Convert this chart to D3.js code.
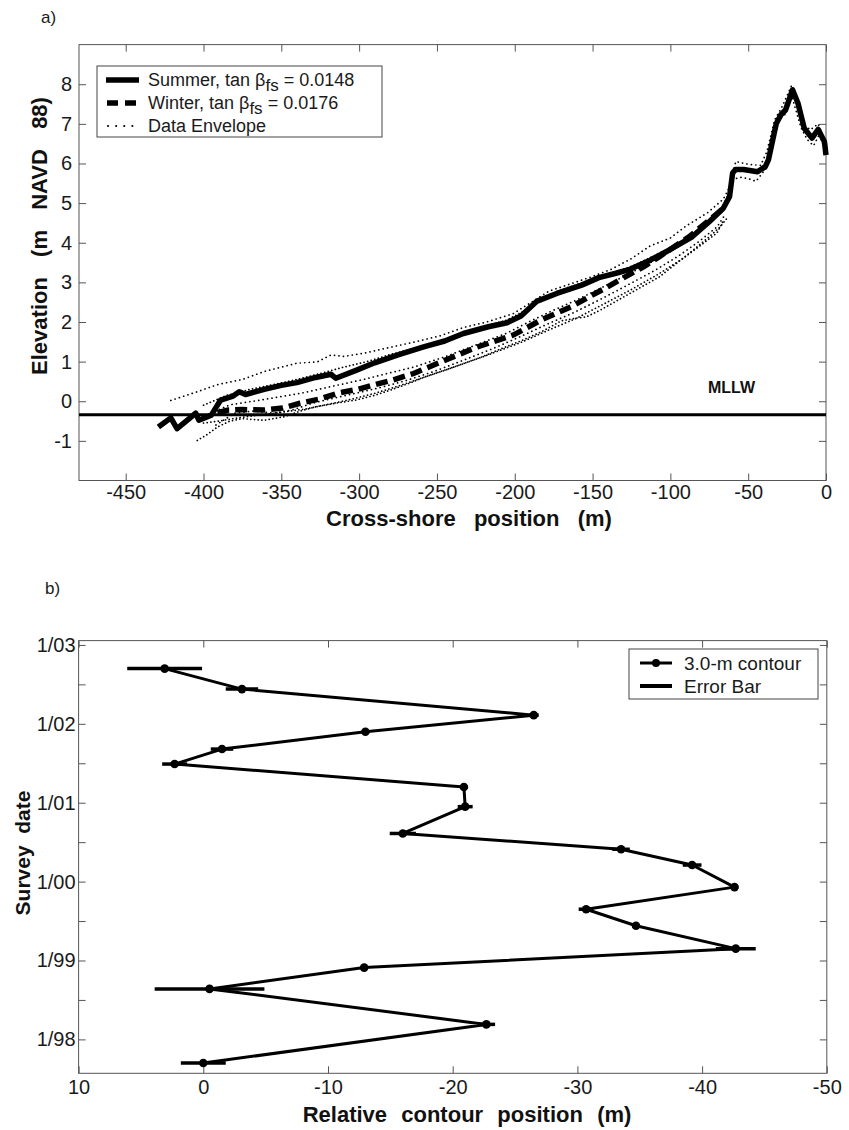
<!DOCTYPE html>
<html><head><meta charset="utf-8">
<script src="https://cdn.jsdelivr.net/npm/d3@7"></script>
<style>
body{margin:0;background:#fff;}
svg text{font-family:"Liberation Sans",Arial,Helvetica,sans-serif;}
</style></head><body>
<svg id="c" width="849" height="1130"></svg>
<script>
// ---------- Panel a) data ----------
const summerProfile = [[-429,-0.65],[-421,-0.42],[-417,-0.69],[-409,-0.43],[-405,-0.30],[-403,-0.48],[-395,-0.35],[-389,0.03],[-381,0.13],[-377,0.24],[-373,0.17],[-361,0.30],[-350,0.40],[-340,0.47],[-328,0.60],[-318,0.68],[-315,0.58],[-302,0.78],[-290,0.97],[-275,1.17],[-258,1.38],[-245,1.52],[-233,1.71],[-217,1.88],[-205,1.98],[-196,2.15],[-186,2.52],[-173,2.72],[-157,2.93],[-146,3.12],[-135,3.23],[-126,3.33],[-113,3.56],[-100,3.83],[-86,4.15],[-75,4.53],[-66,4.87],[-62,5.16],[-60,5.76],[-58,5.85],[-53,5.85],[-44,5.79],[-39,5.92],[-37,6.09],[-32,7.0],[-29,7.23],[-26,7.35],[-21.5,7.86],[-18,7.52],[-14,6.89],[-9,6.64],[-5,6.86],[-1,6.55],[0,6.21]];
const winterProfile = [[-391,-0.29],[-384,-0.22],[-375,-0.21],[-361,-0.22],[-349,-0.17],[-338,-0.05],[-326,0.05],[-313,0.21],[-301,0.30],[-288,0.44],[-278,0.54],[-265,0.70],[-242,1.08],[-224,1.37],[-201,1.67],[-183,2.05],[-164,2.38],[-152,2.64],[-142,2.85],[-129,3.14],[-117,3.40],[-107,3.65],[-88,4.15],[-75,4.57],[-66,4.87]];
const envelopeTop = [[-421,0.02],[-404,0.24],[-391,0.42],[-375,0.55],[-361,0.75],[-340,0.96],[-327,0.99],[-318,1.17],[-310,1.13],[-296,1.22],[-280,1.36],[-264,1.50],[-248,1.65],[-233,1.86],[-218,2.00],[-201,2.21],[-190,2.48],[-178,2.78],[-165,2.95],[-150,3.15],[-138,3.33],[-125,3.60],[-113,3.92],[-100,4.12],[-90,4.42],[-76,4.76],[-66,5.10],[-62,5.40],[-58,6.05],[-50,5.98],[-42,5.95],[-38,6.3],[-33,7.1],[-28,7.45],[-22,7.98],[-18,7.55],[-15,7.0],[-10,6.85],[-5,7.0],[-1,6.6],[0,6.3]];
const envelopeUpper = [[-400,-0.10],[-385,0.15],[-370,0.30],[-355,0.42],[-340,0.55],[-325,0.70],[-310,0.86],[-295,1.00],[-280,1.18],[-265,1.33],[-250,1.50],[-235,1.70],[-220,1.88],[-205,2.05],[-193,2.30],[-182,2.62],[-168,2.84],[-152,3.05],[-138,3.22],[-124,3.42],[-110,3.68],[-96,3.95],[-84,4.28],[-72,4.62],[-64,5.0]];
const envelopeMid = [[-395,-0.30],[-383,-0.09],[-365,0.02],[-350,0.12],[-335,0.22],[-318,0.37],[-297,0.55],[-282,0.70],[-265,0.86],[-245,1.12],[-225,1.42],[-205,1.72],[-190,2.02],[-175,2.30],[-160,2.56],[-145,2.85],[-130,3.15],[-115,3.45],[-100,3.78],[-88,4.10],[-78,4.42],[-70,4.70],[-64,5.0]];
const envelopeLowMid = [[-400,-0.55],[-390,-0.50],[-378,-0.42],[-365,-0.35],[-350,-0.28],[-335,-0.20],[-320,-0.08],[-305,0.05],[-290,0.20],[-275,0.38],[-255,0.65],[-235,0.92],[-215,1.20],[-195,1.50],[-178,1.80],[-160,2.10],[-143,2.45],[-125,2.82],[-108,3.20],[-92,3.60],[-80,3.95],[-70,4.25],[-66,4.55]];
const envelopeLower = [[-392,-0.60],[-380,-0.30],[-368,-0.25],[-355,-0.30],[-343,-0.22],[-330,-0.05],[-316,0.08],[-300,0.22],[-285,0.36],[-270,0.52],[-252,0.75],[-232,1.05],[-214,1.33],[-197,1.62],[-180,1.93],[-163,2.22],[-146,2.55],[-128,2.92],[-110,3.30],[-95,3.66],[-82,4.02],[-70,4.40],[-65,4.70]];
const envelopeLow = [[-404,-0.99],[-398,-0.85],[-391,-0.65],[-383,-0.50],[-375,-0.44],[-361,-0.48],[-348,-0.39],[-338,-0.25],[-328,-0.14],[-315,-0.05],[-302,0.03],[-290,0.15],[-280,0.28],[-268,0.45],[-258,0.61],[-245,0.78],[-233,0.95],[-221,1.12],[-211,1.29],[-195,1.54],[-182,1.77],[-170,2.03],[-160,2.10],[-154,2.13],[-145,2.30],[-126,2.72],[-107,3.14],[-88,3.73],[-75,4.15],[-68,4.40],[-64,4.60]];
const envelopeCrest = [[-66,4.95],[-62,5.3],[-60,5.6],[-55,5.65],[-50,5.62],[-45,5.55],[-42,5.7],[-38,5.9],[-34,6.6],[-30,7.1],[-26,7.25],[-22,7.7],[-19,7.3],[-16,6.9],[-12,6.6],[-8,6.45],[-4,6.75],[0,6.2]];
const envelopes = [envelopeTop, envelopeUpper, envelopeMid, envelopeLowMid, envelopeLower, envelopeLow, envelopeCrest];
const mllwLevel = -0.34;
const xTicksA = [-450,-400,-350,-300,-250,-200,-150,-100,-50,0];
const yTicksA = [-1,0,1,2,3,4,5,6,7,8];
const legendA = [
  {name:"Summer, tan β", sub:"fs", rest:" = 0.0148", kind:"solid"},
  {name:"Winter, tan β", sub:"fs", rest:" = 0.0176", kind:"dash"},
  {name:"Data Envelope", sub:"", rest:"", kind:"dot"}
];

// ---------- Panel b) data ----------
const surveyDates = [2002.70,2002.44,2002.11,2001.90,2001.68,2001.49,2001.20,2000.95,2000.61,2000.41,2000.21,1999.93,1999.65,1999.44,1999.15,1998.91,1998.64,1998.19,1997.70];
const contourPos = [3.1,-3.1,-26.5,-13.0,-1.5,2.3,-20.9,-21.0,-16.0,-33.5,-39.2,-42.6,-30.7,-34.7,-42.7,-12.9,-0.5,-22.7,0.0];
const errorBar = [3.0,1.3,0.4,0.3,0.9,1.0,0.3,0.6,1.05,0.7,0.75,0.3,0.6,0.3,1.6,0.3,4.4,0.7,1.8];
const yearTicks = [1998,1998.5,1999,1999.5,2000,2000.5,2001,2001.5,2002,2002.5,2003];
const yearLabels = {1998:"1/98",1999:"1/99",2000:"1/00",2001:"1/01",2002:"1/02",2003:"1/03"};
const xTicksB = [10,0,-10,-20,-30,-40,-50];

const svg = d3.select("#c");
svg.append("rect").attr("width",849).attr("height",1130).attr("fill","#fff");
const frameColor = "#555", tickColor="#555", labelColor="#1a1a1a";

function styleAxis(g, fs){
  g.select(".domain").remove();
  g.selectAll(".tick line").attr("stroke",tickColor).attr("stroke-width",1);
  g.selectAll(".tick text").attr("fill",labelColor).attr("font-size",fs)
   .attr("font-family","'Liberation Sans',Arial,sans-serif");
}

// ================= Panel a =================
const xA = d3.scaleLinear().domain([-480,0]).range([79,826]);
const yA = d3.scaleLinear().domain([-2,9]).range([480.5,44.6]);
const fmt = d => String(d);

const gA = svg.append("g");
gA.append("g").attr("transform",`translate(0,${yA(-2)})`)
  .call(d3.axisBottom(xA).tickValues(xTicksA).tickFormat(fmt).tickSize(-7).tickPadding(4))
  .call(g=>styleAxis(g,20));
gA.append("g").attr("transform",`translate(0,${yA(9)})`)
  .call(d3.axisTop(xA).tickValues(xTicksA).tickFormat("").tickSize(-7))
  .call(g=>styleAxis(g,20));
gA.append("g").attr("transform",`translate(${xA(-480)},0)`)
  .call(d3.axisLeft(yA).tickValues(yTicksA).tickFormat(fmt).tickSize(-7).tickPadding(7))
  .call(g=>styleAxis(g,20));
gA.append("g").attr("transform",`translate(${xA(0)},0)`)
  .call(d3.axisRight(yA).tickValues(yTicksA).tickFormat("").tickSize(-7))
  .call(g=>styleAxis(g,20));
gA.append("rect").attr("x",xA(-480)).attr("y",yA(9)).attr("width",xA(0)-xA(-480)).attr("height",yA(-2)-yA(9))
  .attr("fill","none").attr("stroke",frameColor).attr("stroke-width",1);

const lineA = d3.line().x(d=>xA(d[0])).y(d=>yA(d[1]));
gA.selectAll("path.env").data(envelopes).join("path").attr("class","env")
  .attr("d",lineA).attr("fill","none").attr("stroke","#000").attr("stroke-width",1.7)
  .attr("stroke-linecap","round").attr("stroke-dasharray",(d,i)=> i%2 ? "0.1 3.6" : "0.1 4.4");
gA.append("path").attr("d",lineA(winterProfile)).attr("fill","none").attr("stroke","#000")
  .attr("stroke-width",5.5).attr("stroke-dasharray","12 6");
gA.append("path").attr("d",lineA(summerProfile)).attr("fill","none").attr("stroke","#000")
  .attr("stroke-width",5.5).attr("stroke-linejoin","round");
gA.append("line").attr("x1",xA(-480)).attr("x2",xA(0)).attr("y1",yA(mllwLevel)).attr("y2",yA(mllwLevel))
  .attr("stroke","#000").attr("stroke-width",3);
gA.append("text").attr("x",708).attr("y",yA(mllwLevel)-22).attr("font-size",16).attr("font-weight","bold")
  .attr("fill","#111").text("MLLW");

// legend a
const legA = gA.append("g");
legA.append("rect").attr("x",97).attr("y",66).attr("width",285).attr("height",71)
  .attr("fill","#fff").attr("stroke","#444").attr("stroke-width",1);
legendA.forEach((d,i)=>{
  const cy = 80 + i*23;
  const ln = legA.append("line").attr("x1",106).attr("x2",139).attr("y1",cy).attr("y2",cy).attr("stroke","#000");
  if(d.kind==="solid") ln.attr("stroke-width",5.5);
  if(d.kind==="dash") ln.attr("stroke-width",5.5).attr("stroke-dasharray","11 7").attr("x1",107);
  if(d.kind==="dot") ln.attr("stroke-width",2).attr("stroke-linecap","round").attr("stroke-dasharray","0.1 8").attr("x1",108);
  const t = legA.append("text").attr("x",148).attr("y",cy+6).attr("font-size",18).attr("fill",labelColor);
  t.append("tspan").text(d.name);
  if(d.sub){
    t.append("tspan").attr("dy",5).attr("font-size",17).text(d.sub);
    t.append("tspan").attr("dy",-5).text(d.rest);
  }
});

svg.append("text").attr("x",41).attr("y",23).attr("font-size",17).attr("fill",labelColor).text("a)");
svg.append("text").attr("transform","translate(47,236) rotate(-90)").attr("text-anchor","middle")
  .attr("font-size",22).attr("font-weight","bold").attr("fill","#111").attr("word-spacing",4)
  .style("white-space","pre").text("Elevation  (m  NAVD  88)");
svg.append("text").attr("x",469).attr("y",526).attr("text-anchor","middle")
  .attr("font-size",22).attr("font-weight","bold").attr("fill","#111").attr("word-spacing",3)
  .style("white-space","pre").text("Cross-shore  position  (m)");

// ================= Panel b =================
const xB = d3.scaleLinear().domain([10,-50]).range([78.6,826.8]);
const yB = d3.scaleLinear().domain([1997.57,2003.055]).range([1073.3,640.6]);
const gB = svg.append("g");
gB.append("g").attr("transform",`translate(0,${yB(1997.57)})`)
  .call(d3.axisBottom(xB).tickValues(xTicksB).tickFormat(fmt).tickSize(-7).tickPadding(7))
  .call(g=>styleAxis(g,20));
gB.append("g").attr("transform",`translate(0,${yB(2003.055)})`)
  .call(d3.axisTop(xB).tickValues(xTicksB).tickFormat("").tickSize(-7))
  .call(g=>styleAxis(g,20));
gB.append("g").attr("transform",`translate(${xB(10)},0)`)
  .call(d3.axisLeft(yB).tickValues(yearTicks).tickFormat(d=>yearLabels[d]||"").tickSize(-7).tickPadding(3))
  .call(g=>styleAxis(g,20));
gB.append("g").attr("transform",`translate(${xB(-50)},0)`)
  .call(d3.axisRight(yB).tickValues(yearTicks).tickFormat("").tickSize(-7))
  .call(g=>styleAxis(g,20));
gB.append("rect").attr("x",xB(10)).attr("y",yB(2003.055)).attr("width",xB(-50)-xB(10)).attr("height",yB(1997.57)-yB(2003.055))
  .attr("fill","none").attr("stroke",frameColor).attr("stroke-width",1);

const pts = surveyDates.map((t,i)=>({t, x:contourPos[i], e:errorBar[i]}));
gB.selectAll("line.err").data(pts).join("line").attr("class","err")
  .attr("x1",d=>xB(d.x+d.e)).attr("x2",d=>xB(d.x-d.e)).attr("y1",d=>yB(d.t)).attr("y2",d=>yB(d.t))
  .attr("stroke","#000").attr("stroke-width",3.5);
gB.append("path").attr("d",d3.line().x(d=>xB(d.x)).y(d=>yB(d.t))(pts))
  .attr("fill","none").attr("stroke","#000").attr("stroke-width",3).attr("stroke-linejoin","round");
gB.selectAll("circle.pt").data(pts).join("circle").attr("class","pt")
  .attr("cx",d=>xB(d.x)).attr("cy",d=>yB(d.t)).attr("r",4.3).attr("fill","#000");

// legend b
const legB = gB.append("g");
legB.append("rect").attr("x",629).attr("y",649).attr("width",189).attr("height",50)
  .attr("fill","#fff").attr("stroke","#444").attr("stroke-width",1);
legB.append("line").attr("x1",640).attr("x2",672).attr("y1",663).attr("y2",663).attr("stroke","#000").attr("stroke-width",3);
legB.append("circle").attr("cx",656).attr("cy",663).attr("r",4).attr("fill","#000");
legB.append("line").attr("x1",640).attr("x2",672).attr("y1",686).attr("y2",686).attr("stroke","#000").attr("stroke-width",4);
legB.append("text").attr("x",684).attr("y",670).attr("font-size",19).attr("fill",labelColor).text("3.0-m contour");
legB.append("text").attr("x",684).attr("y",693).attr("font-size",19).attr("fill",labelColor).text("Error Bar");

svg.append("text").attr("x",45).attr("y",594).attr("font-size",17).attr("fill",labelColor).text("b)");
svg.append("text").attr("transform","translate(30,853) rotate(-90)").attr("text-anchor","middle")
  .attr("font-size",21).attr("font-weight","bold").attr("fill","#111")
  .style("white-space","pre").text("Survey  date");
svg.append("text").attr("x",467).attr("y",1122).attr("text-anchor","middle")
  .attr("font-size",22).attr("font-weight","bold").attr("fill","#111").attr("word-spacing",1)
  .style("white-space","pre").text("Relative  contour  position  (m)");
</script>
</body></html>
